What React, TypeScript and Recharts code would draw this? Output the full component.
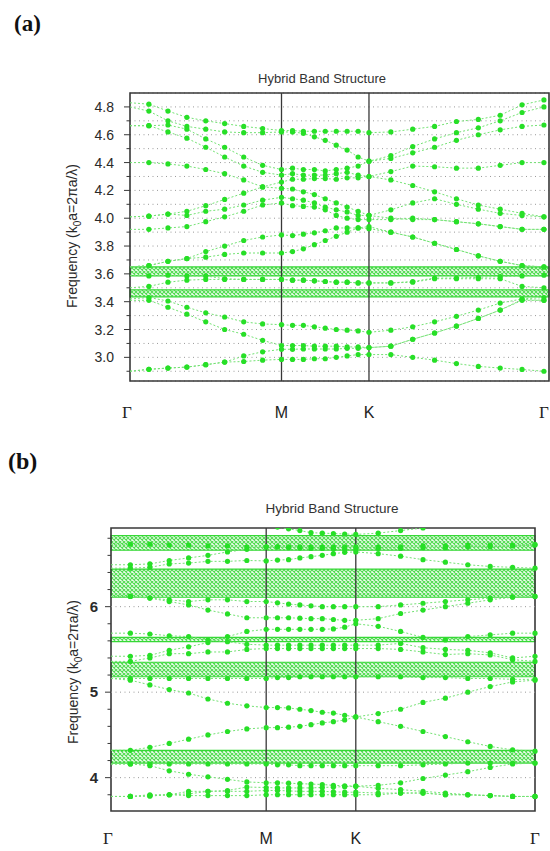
import React from "react";
import {
  LineChart,
  Line,
  XAxis,
  YAxis,
  CartesianGrid,
  ReferenceArea,
  ReferenceLine,
} from "recharts";

// k-path: Γ -> M (8 steps), M -> K (8 steps), K -> Γ (8 steps)
const kPath = [
  0, 0.108, 0.217, 0.325, 0.433, 0.541, 0.65, 0.758, 0.866,
  0.929, 0.991, 1.054, 1.116, 1.179, 1.241, 1.304, 1.366,
  1.491, 1.616, 1.741, 1.866, 1.991, 2.116, 2.241, 2.366,
];
const symPoints = [0, 0.866, 1.366, 2.366];
const symLabels = ["Γ", "M", "K", "Γ"];

// ---- panel (a) bands ----
const aBandA = [2.9, 2.914, 2.923, 2.93, 2.947, 2.966, 2.97, 2.98, 2.985, 2.985, 2.985, 2.99, 2.99, 3.0, 3.01, 3.02, 3.02, 3.02, 3.0, 2.98, 2.955, 2.935, 2.923, 2.913, 2.9];
const aBandD = [2.9, 2.914, 2.923, 2.93, 2.947, 2.966, 3.01, 3.04, 3.058, 3.058, 3.06, 3.06, 3.06, 3.06, 3.065, 3.065, 3.07, 3.08, 3.13, 3.175, 3.225, 3.28, 3.34, 3.41, 3.41];
const aBandC = [3.41, 3.41, 3.36, 3.31, 3.255, 3.2, 3.166, 3.122, 3.085, 3.085, 3.085, 3.08, 3.08, 3.08, 3.075, 3.075, 3.07, 3.08, 3.13, 3.175, 3.225, 3.28, 3.34, 3.415, 3.41];
const aBandB = [3.42, 3.43, 3.405, 3.36, 3.32, 3.29, 3.255, 3.24, 3.235, 3.23, 3.23, 3.22, 3.21, 3.2, 3.195, 3.19, 3.18, 3.195, 3.22, 3.255, 3.295, 3.34, 3.39, 3.42, 3.43];
const aBandE = [3.5, 3.51, 3.54, 3.555, 3.56, 3.56, 3.56, 3.56, 3.56, 3.555, 3.555, 3.55, 3.545, 3.54, 3.54, 3.535, 3.535, 3.535, 3.54, 3.565, 3.565, 3.565, 3.565, 3.51, 3.5];
const aBandF = [3.59, 3.585, 3.59, 3.585, 3.585, 3.565, 3.56, 3.56, 3.56, 3.555, 3.555, 3.55, 3.545, 3.54, 3.54, 3.535, 3.535, 3.535, 3.545, 3.57, 3.57, 3.575, 3.58, 3.585, 3.59];
const aBandG = [3.65, 3.66, 3.69, 3.71, 3.72, 3.74, 3.75, 3.75, 3.75, 3.76, 3.78, 3.81, 3.84, 3.87, 3.9, 3.93, 3.94, 3.9, 3.865, 3.82, 3.775, 3.73, 3.69, 3.66, 3.65];
const aBandH = [3.65, 3.66, 3.69, 3.71, 3.76, 3.8, 3.84, 3.865, 3.88, 3.875, 3.885, 3.895, 3.91, 3.93, 3.93, 3.93, 3.925, 3.9, 3.865, 3.82, 3.775, 3.73, 3.69, 3.66, 3.65];
const aBandU8 = [3.92, 3.92, 3.93, 3.94, 3.975, 4.01, 4.05, 4.095, 4.11, 4.09, 4.085, 4.08, 4.06, 4.02, 4.0, 3.99, 3.99, 3.99, 4.0, 3.99, 3.975, 3.96, 3.94, 3.92, 3.92];
const aBandU7 = [4.01, 4.015, 4.03, 4.02, 4.05, 4.065, 4.095, 4.13, 4.15, 4.14, 4.13, 4.11, 4.08, 4.06, 4.045, 4.02, 4.02, 4.0, 3.99, 3.99, 3.975, 3.96, 3.94, 3.92, 3.92];
const aBandU6 = [4.01, 4.015, 4.03, 4.05, 4.09, 4.135, 4.18, 4.225, 4.26, 4.28, 4.28, 4.285, 4.285, 4.28, 4.29, 4.29, 4.3, 4.275, 4.235, 4.19, 4.14, 4.095, 4.065, 4.035, 4.01];
const aBandU5 = [4.4, 4.4, 4.39, 4.375, 4.35, 4.32, 4.275, 4.225, 4.215, 4.21, 4.19, 4.17, 4.14, 4.11, 4.08, 4.05, 4.02, 4.06, 4.11, 4.14, 4.1, 4.065, 4.035, 4.02, 4.01];
const aBandU4 = [4.665, 4.665, 4.62, 4.575, 4.51, 4.44, 4.375, 4.33, 4.31, 4.32, 4.31, 4.31, 4.31, 4.32, 4.33, 4.31, 4.3, 4.335, 4.375, 4.37, 4.36, 4.36, 4.38, 4.4, 4.4];
const aBandU3 = [4.665, 4.665, 4.67, 4.64, 4.57, 4.51, 4.44, 4.38, 4.35, 4.36, 4.35, 4.35, 4.34, 4.35, 4.36, 4.375, 4.41, 4.43, 4.47, 4.51, 4.56, 4.6, 4.635, 4.66, 4.67];
const aBandU2 = [4.8, 4.77, 4.7, 4.66, 4.64, 4.62, 4.615, 4.615, 4.62, 4.62, 4.61, 4.585, 4.56, 4.525, 4.49, 4.44, 4.41, 4.45, 4.515, 4.57, 4.615, 4.65, 4.7, 4.76, 4.8];
const aBandU1 = [4.83, 4.82, 4.77, 4.725, 4.7, 4.68, 4.66, 4.645, 4.63, 4.63, 4.625, 4.625, 4.625, 4.625, 4.625, 4.625, 4.615, 4.62, 4.64, 4.66, 4.695, 4.71, 4.74, 4.815, 4.85];

const aGaps = [
  [3.585, 3.65],
  [3.435, 3.485],
];
const aTicks = [2.9, 3.0, 3.1, 3.2, 3.3, 3.4, 3.5, 3.6, 3.7, 3.8, 3.9, 4.0, 4.1, 4.2, 4.3, 4.4, 4.5, 4.6, 4.7, 4.8];
const aTickLabels = ["3.0", "3.2", "3.4", "3.6", "3.8", "4.0", "4.2", "4.4", "4.6", "4.8"];

// ---- panel (b) bands ----
const bBand1 = [3.78, 3.78, 3.786, 3.8, 3.79, 3.79, 3.79, 3.79, 3.8, 3.8, 3.8, 3.8, 3.8, 3.8, 3.8, 3.8, 3.8, 3.8, 3.82, 3.82, 3.8, 3.8, 3.79, 3.78, 3.78];
const bBand2 = [3.78, 3.78, 3.786, 3.8, 3.84, 3.84, 3.84, 3.84, 3.85, 3.85, 3.845, 3.84, 3.84, 3.84, 3.835, 3.83, 3.83, 3.82, 3.82, 3.82, 3.8, 3.8, 3.79, 3.78, 3.78];
const bBand3 = [3.78, 3.78, 3.8, 3.8, 3.81, 3.84, 3.85, 3.89, 3.885, 3.88, 3.88, 3.88, 3.88, 3.885, 3.89, 3.895, 3.9, 3.875, 3.86, 3.84, 3.82, 3.8, 3.79, 3.78, 3.78];
const bBand4 = [4.16, 4.16, 4.14, 4.08, 4.04, 4.01, 3.98, 3.95, 3.94, 3.94, 3.935, 3.93, 3.925, 3.92, 3.91, 3.905, 3.9, 3.91, 3.94, 3.99, 4.03, 4.07, 4.12, 4.16, 4.17];
const bBand5 = [4.16, 4.16, 4.16, 4.16, 4.16, 4.16, 4.16, 4.16, 4.16, 4.15, 4.15, 4.14, 4.14, 4.14, 4.14, 4.14, 4.14, 4.14, 4.14, 4.15, 4.16, 4.17, 4.17, 4.17, 4.17];
const bBand6 = [4.32, 4.32, 4.355, 4.4, 4.45, 4.5, 4.54, 4.57, 4.585, 4.585, 4.59, 4.6, 4.62, 4.64, 4.655, 4.675, 4.71, 4.655, 4.6, 4.54, 4.48, 4.42, 4.365, 4.325, 4.31];
const bBand7 = [5.16, 5.14, 5.085, 5.03, 4.99, 4.92, 4.87, 4.84, 4.82, 4.82, 4.815, 4.8, 4.785, 4.765, 4.755, 4.73, 4.71, 4.75, 4.8, 4.88, 4.93, 5.0, 5.065, 5.12, 5.14];
const bBand8 = [5.16, 5.16, 5.16, 5.16, 5.16, 5.16, 5.16, 5.16, 5.16, 5.17, 5.17, 5.18, 5.18, 5.18, 5.18, 5.18, 5.18, 5.18, 5.18, 5.17, 5.17, 5.16, 5.16, 5.15, 5.15];
const bBand9 = [5.36, 5.36, 5.4, 5.45, 5.45, 5.47, 5.47, 5.5, 5.51, 5.51, 5.51, 5.51, 5.51, 5.51, 5.51, 5.51, 5.51, 5.51, 5.5, 5.47, 5.44, 5.45, 5.435, 5.38, 5.36];
const bBand10 = [5.42, 5.42, 5.43, 5.49, 5.53, 5.58, 5.65, 5.71, 5.735, 5.735, 5.735, 5.735, 5.735, 5.735, 5.74, 5.76, 5.8, 5.77, 5.71, 5.64, 5.61, 5.65, 5.67, 5.69, 5.69];
const bBand11 = [5.69, 5.69, 5.68, 5.66, 5.65, 5.61, 5.59, 5.56, 5.55, 5.55, 5.55, 5.55, 5.55, 5.55, 5.55, 5.55, 5.55, 5.55, 5.57, 5.52, 5.5, 5.49, 5.46, 5.4, 5.42];
const bBand12 = [6.12, 6.12, 6.1, 6.06, 6.02, 5.96, 5.915, 5.87, 5.87, 5.87, 5.87, 5.865, 5.86, 5.86, 5.85, 5.84, 5.84, 5.86, 5.92, 5.96, 6.0, 6.04, 6.08, 6.11, 6.12];
const bBand13 = [6.12, 6.12, 6.1, 6.08, 6.06, 6.08, 6.08, 6.06, 6.06, 6.045, 6.03, 6.02, 6.01, 6.0, 6.0, 6.0, 6.0, 6.0, 6.02, 6.04, 6.06, 6.08, 6.1, 6.115, 6.12];
const bBand14 = [6.45, 6.45, 6.46, 6.5, 6.51, 6.53, 6.53, 6.54, 6.535, 6.545, 6.55, 6.57, 6.585, 6.6, 6.62, 6.635, 6.64, 6.62, 6.59, 6.55, 6.52, 6.49, 6.47, 6.46, 6.45];
const bBand15 = [6.49, 6.49, 6.5, 6.54, 6.57, 6.6, 6.64, 6.67, 6.7, 6.7, 6.69, 6.685, 6.68, 6.68, 6.675, 6.67, 6.67, 6.68, 6.68, 6.69, 6.69, 6.7, 6.7, 6.71, 6.72];
const bBand16 = [6.73, 6.73, 6.73, 6.72, 6.72, 6.71, 6.71, 6.7, 6.7, 6.7, 6.7, 6.7, 6.7, 6.7, 6.7, 6.7, 6.7, 6.7, 6.7, 6.71, 6.71, 6.72, 6.72, 6.72, 6.73];
const bBand17 = [7.3, 7.25, 7.2, 7.15, 7.1, 7.05, 7.0, 6.97, 6.95, 6.93, 6.91, 6.89, 6.865, 6.86, 6.855, 6.85, 6.845, 6.86, 6.89, 6.92, 6.96, 7.02, 7.1, 7.2, 7.3];

const bGaps = [
  [6.66, 6.83],
  [6.11, 6.44],
  [5.59, 5.64],
  [5.18, 5.35],
  [4.17, 4.32],
];
const bTicks = [3.8, 4.0, 4.2, 4.4, 4.6, 4.8, 5.0, 5.2, 5.4, 5.6, 5.8, 6.0, 6.2, 6.4, 6.6, 6.8];
const bTickLabels = ["4", "5", "6"];
const bGridLines = [4, 5, 6];

const aBands = [aBandA, aBandD, aBandC, aBandB, aBandE, aBandF, aBandG, aBandH, aBandU8, aBandU7, aBandU6, aBandU5, aBandU4, aBandU3, aBandU2, aBandU1];
const bBands = [bBand1, bBand2, bBand3, bBand4, bBand5, bBand6, bBand7, bBand8, bBand9, bBand10, bBand11, bBand12, bBand13, bBand14, bBand15, bBand16, bBand17];

const buildRows = (bands: number[][]) =>
  kPath.map((k, i) => {
    const row: Record<string, number> = { k };
    bands.forEach((b, j) => {
      row[`b${j}`] = b[i];
    });
    return row;
  });

const aRows = buildRows(aBands);
const bRows = buildRows(bBands);

const dotGreen = "#27df27";
const lineGreen = "#74e274";
const frame = "#383838";
const sans = "'Liberation Sans', Arial, sans-serif";
const serif = "'Liberation Serif', 'Times New Roman', serif";

// dots at the left Γ sit under the frame in the original, so skip them
const renderDot = (props: any) => {
  const { cx, cy, index } = props;
  if (index === 0 || cx == null || cy == null) return <g key={`n${index}`} />;
  return <circle key={`d${index}`} cx={cx} cy={cy} r={2.6} fill={dotGreen} />;
};

const makeXTick = (dy: number) => (props: any) => {
  const { x, y, payload } = props;
  const idx = symPoints.indexOf(payload.value);
  const label = symLabels[idx] ?? "";
  const isGamma = label === "Γ";
  return (
    <text
      x={idx === 0 ? x - 3 : x}
      y={y + dy}
      textAnchor="middle"
      fontSize={isGamma ? 17 : 16}
      fontFamily={isGamma ? serif : sans}
      fill="#222"
    >
      {label}
    </text>
  );
};
const XTickA = makeXTick(37);
const XTickB = makeXTick(33);

const makeYTick = (labels: string[], gap: number, bold: boolean, fmt: (v: number) => string) =>
  (props: any) => {
    const { x, y, payload } = props;
    const txt = fmt(payload.value);
    const major = labels.includes(txt);
    return (
      <g>
        <line x1={x - (major ? 6 : 3.5)} x2={x} y1={y} y2={y} stroke={frame} strokeWidth={1} />
        {major && (
          <text
            x={x - gap}
            y={y + 5}
            textAnchor="end"
            fontSize={bold ? 15 : 14}
            fontWeight={bold ? 700 : 400}
            fontFamily={sans}
            fill="#2a2a2a"
          >
            {txt}
          </text>
        )}
      </g>
    );
  };

const ATick = makeYTick(aTickLabels, 16, false, (v) => v.toFixed(1));
const BTick = makeYTick(bTickLabels, 13, true, (v) => (Number.isInteger(Math.round(v * 100) / 100) ? String(Math.round(v)) : v.toFixed(1)));

const HatchDefs = ({ id }: { id: string }) => (
  <defs>
    <pattern id={id} width="4" height="4" patternUnits="userSpaceOnUse">
      <rect width="4" height="4" fill="#effcef" />
      <path d="M0,0 L4,4 M4,0 L0,4" stroke="#52dc52" strokeWidth="1.1" />
    </pattern>
  </defs>
);

const YLabel = ({ cx, cy }: { cx: number; cy: number }) => (
  <text
    transform={`translate(${cx},${cy}) rotate(-90)`}
    textAnchor="middle"
    fontSize={14}
    fontFamily={sans}
    fill="#2a2a2a"
  >
    Frequency (k
    <tspan fontSize={10} dy={4}>0</tspan>
    <tspan dy={-4}>a=2πa/λ)</tspan>
  </text>
);

const App = () => {
  const aMax = 2.395;
  const bMax = 2.366;
  return (
    <div style={{ position: "absolute", left: 0, top: 0, width: 550, height: 851, background: "#fff" }}>
      {/* panel (a) */}
      <div style={{ position: "absolute", left: 0, top: 0 }}>
        <LineChart width={550} height={430} data={aRows} margin={{ top: 93, right: 1, left: 90, bottom: 19 }}>
          <HatchDefs id="hatchA" />
          <CartesianGrid vertical={false} stroke="#9a9a9a" strokeDasharray="1 3.5" />
          <XAxis
            dataKey="k"
            type="number"
            domain={[0, aMax]}
            ticks={symPoints}
            axisLine={false}
            tickLine={false}
            tickSize={0}
            tickMargin={0}
            height={30}
            tick={XTickA}
            interval={0}
          />
          <YAxis
            type="number"
            domain={[2.83, 4.9]}
            ticks={aTicks}
            axisLine={false}
            tickLine={false}
            tickSize={0}
            tickMargin={0}
            width={40}
            tick={ATick}
            interval={0}
            allowDataOverflow
          />
          {aGaps.map(([lo, hi], i) => (
            <ReferenceArea key={`ga${i}`} y1={lo} y2={hi} fill="url(#hatchA)" fillOpacity={1} stroke="#36d836" strokeWidth={1.2} />
          ))}
          {aBands.map((_, j) => (
            <Line
              key={`la${j}`}
              dataKey={`b${j}`}
              type="linear"
              stroke={lineGreen}
              strokeWidth={1}
              strokeDasharray="2 2"
              dot={renderDot}
              activeDot={false}
              isAnimationActive={false}
            />
          ))}
          <ReferenceLine x={0.866} stroke={frame} strokeWidth={1.3} />
          <ReferenceLine x={1.366} stroke={frame} strokeWidth={1.3} />
          <ReferenceArea x1={0} x2={aMax} y1={2.83} y2={4.9} fill="none" stroke={frame} strokeWidth={1.6} />
        </LineChart>
      </div>

      {/* panel (b) */}
      <div style={{ position: "absolute", left: 0, top: 430 }}>
        <LineChart width={550} height={421} data={bRows} margin={{ top: 98, right: 15, left: 71, bottom: 10 }}>
          <HatchDefs id="hatchB" />
          <XAxis
            dataKey="k"
            type="number"
            domain={[0, bMax]}
            ticks={symPoints}
            axisLine={false}
            tickLine={false}
            tickSize={0}
            tickMargin={0}
            height={30}
            tick={XTickB}
            interval={0}
          />
          <YAxis
            type="number"
            domain={[3.61, 6.92]}
            ticks={bTicks}
            axisLine={false}
            tickLine={false}
            tickSize={0}
            tickMargin={0}
            width={40}
            tick={BTick}
            interval={0}
            allowDataOverflow
          />
          {bGridLines.map((v) => (
            <ReferenceLine key={`gl${v}`} y={v} stroke="#9a9a9a" strokeDasharray="1 3.5" />
          ))}
          {bGaps.map(([lo, hi], i) => (
            <ReferenceArea key={`gb${i}`} y1={lo} y2={hi} fill="url(#hatchB)" fillOpacity={1} stroke="#36d836" strokeWidth={1.2} />
          ))}
          {bBands.map((_, j) => (
            <Line
              key={`lb${j}`}
              dataKey={`b${j}`}
              type="linear"
              stroke={lineGreen}
              strokeWidth={1}
              strokeDasharray="2 2"
              dot={renderDot}
              activeDot={false}
              isAnimationActive={false}
            />
          ))}
          <ReferenceLine x={0.866} stroke={frame} strokeWidth={1.3} />
          <ReferenceLine x={1.366} stroke={frame} strokeWidth={1.3} />
          <ReferenceArea x1={0} x2={bMax} y1={3.61} y2={6.92} fill="none" stroke={frame} strokeWidth={1.6} />
        </LineChart>
      </div>

      {/* titles, panel letters, axis titles */}
      <svg width={550} height={851} style={{ position: "absolute", left: 0, top: 0, pointerEvents: "none" }}>
        <text x={14} y={31} fontSize={23} fontWeight={700} fontFamily={serif} fill="#111">(a)</text>
        <text x={8} y={469} fontSize={24} fontWeight={700} fontFamily={serif} fill="#111">(b)</text>
        <text x={322} y={83} textAnchor="middle" fontSize={13} fontFamily={sans} fill="#333">Hybrid Band Structure</text>
        <text x={332} y={513} textAnchor="middle" fontSize={13.5} fontFamily={sans} fill="#333">Hybrid Band Structure</text>
        <YLabel cx={77} cy={236} />
        <YLabel cx={78} cy={672} />
      </svg>
    </div>
  );
};

export default App;
